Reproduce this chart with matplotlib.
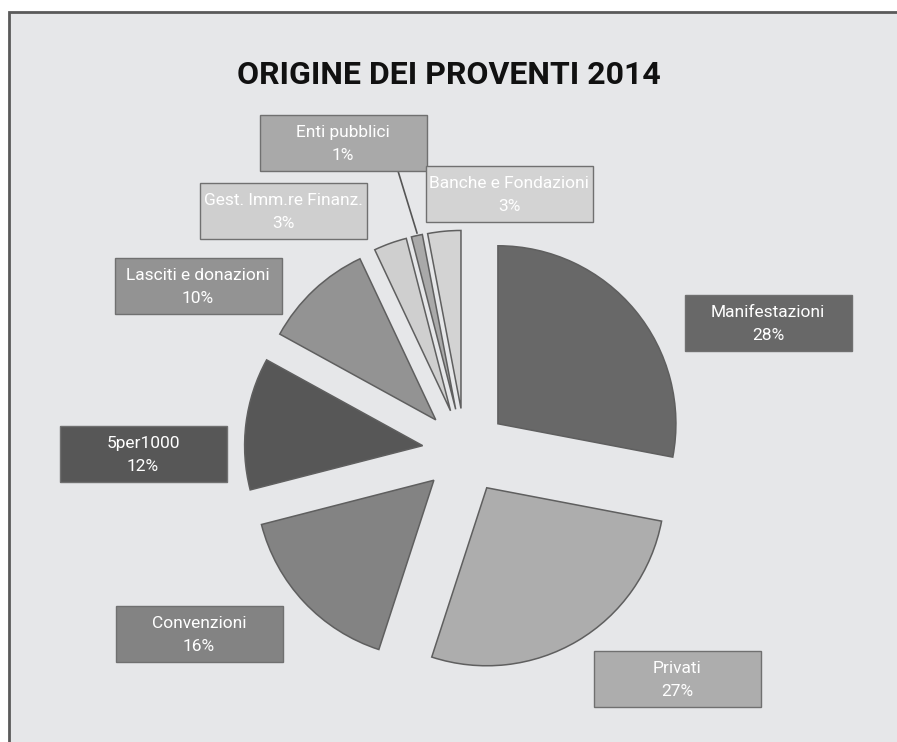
import matplotlib.pyplot as plt
from matplotlib.patches import Rectangle
from matplotlib.lines import Line2D

labels = ['Manifestazioni', 'Privati', 'Convenzioni', '5per1000',
          'Lasciti e donazioni', 'Gest. Imm.re Finanz.', 'Enti pubblici',
          'Banche e Fondazioni']
values = [28, 27, 16, 12, 10, 3, 1, 3]
colors = ['#686868', '#adadad', '#838383', '#575757',
          '#939393', '#cfcfcf', '#a9a9a9', '#d3d3d3']
# label box centres in pixels (x from left, y from top)
box_pos = [(768, 323), (677, 679), (199, 634), (143, 454),
           (198, 286), (283, 211), (343, 143), (509, 194)]

W, H = 897, 742
R = 178.0          # pie radius in pixels
CX, CY = 465, 451  # pie centre in pixels


def fx(x):
    return x / W


def fy(y):
    return 1 - y / H


def main():
    fig = plt.figure(figsize=(W / 100, H / 100), dpi=100)
    fig.patch.set_facecolor('white')

    # grey panel, cut off at right and bottom
    fig.patches.append(Rectangle((fx(9), fy(760)), fx(900), fy(12) - fy(760),
                                 transform=fig.transFigure, facecolor='#e6e7e9',
                                 edgecolor='#5a5a5a', linewidth=2, zorder=-5))

    ax = fig.add_axes([0, 0, 1, 1], zorder=2)
    ax.pie(values, colors=colors, startangle=90, counterclock=False,
           explode=[0.24] * len(values), radius=1, center=(0, 0),
           wedgeprops=dict(edgecolor='#5f5f5f', linewidth=1.1))
    # pie() sets its own limits, so put ours back afterwards
    ax.set_xlim(-CX / R, (W - CX) / R)
    ax.set_ylim((CY - H) / R, CY / R)
    ax.set_aspect('equal')
    ax.axis('off')
    ax.patch.set_alpha(0)

    fig.text(0.5, fy(75), 'ORIGINE DEI PROVENTI 2014', ha='center', va='center',
             fontsize=23, fontweight='bold', color='#111111',
             family=['Roboto', 'DejaVu Sans'])

    bw, bh = 167, 56
    for lab, val, col, (x, y) in zip(labels, values, colors, box_pos):
        fig.patches.append(Rectangle((fx(x - bw / 2), fy(y + bh / 2)),
                                     bw / W, bh / H, transform=fig.transFigure,
                                     facecolor=col, edgecolor='#707070',
                                     linewidth=1, zorder=3))
        fig.text(fx(x), fy(y + 1), '%s\n%d%%' % (lab, val), ha='center',
                 va='center', color='white', fontsize=12.5, linespacing=1.65,
                 family=['Roboto', 'DejaVu Sans'], zorder=4)

    # leader line for the tiny slice
    fig.lines.append(Line2D([fx(398), fx(417)], [fy(171), fy(233)],
                            transform=fig.transFigure, color='#555555',
                            linewidth=1.2))

    plt.savefig('out.png', dpi=100)


if __name__ == '__main__':
    main()
